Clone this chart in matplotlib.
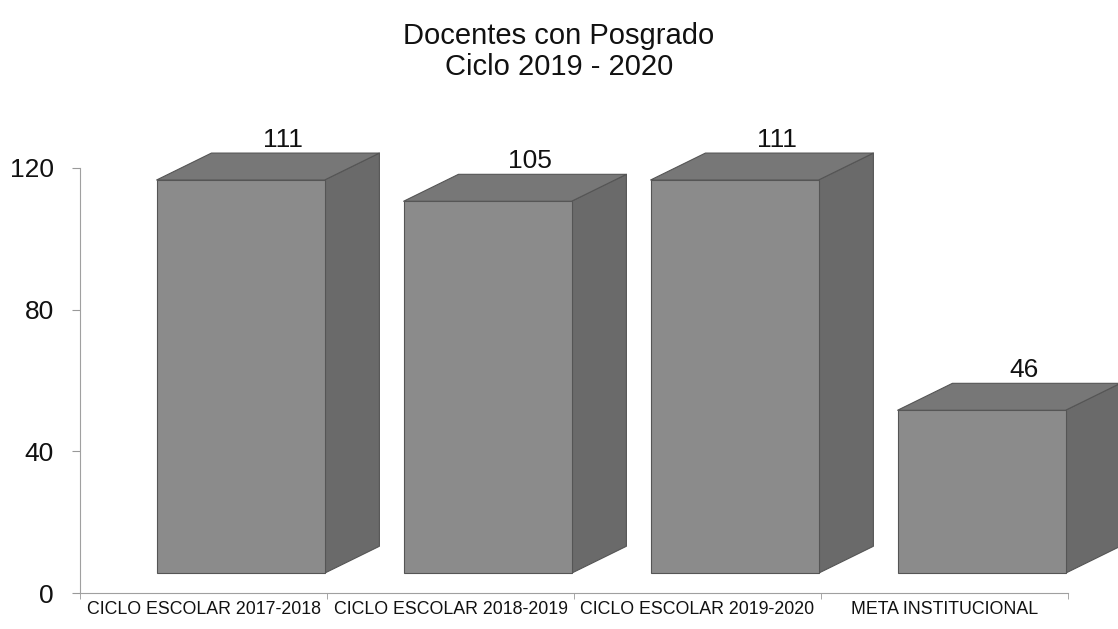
import matplotlib.pyplot as plt
from matplotlib.patches import Polygon

plt.rcParams['font.family'] = ['Liberation Sans', 'DejaVu Sans']

categories = ['CICLO ESCOLAR 2017-2018', 'CICLO ESCOLAR 2018-2019',
              'CICLO ESCOLAR 2019-2020', 'META INSTITUCIONAL']
values = [111, 105, 111, 46]
yticks = [0, 40, 80, 120]

# fake 3d box look
base = 5.6      # front face floats a bit above the floor
left_off = 0.31
width = 0.68
dx = 0.222
dy = 7.6

front_c = '#8b8b8b'
top_c = '#777777'
side_c = '#6a6a6a'
edge_c = '#555555'

fig = plt.figure(figsize=(11.18, 6.29), dpi=100)
ax = fig.add_axes([0.0716, 0.0572, 0.8837, 0.6758])

for i, v in enumerate(values):
    x0 = i + left_off
    x1 = x0 + width
    y0 = base
    y1 = base + v
    ax.bar(x0, v, width=width, bottom=y0, align='edge', color=front_c,
           edgecolor=edge_c, linewidth=0.8, zorder=3, clip_on=False)
    top = Polygon([(x0, y1), (x1, y1), (x1 + dx, y1 + dy), (x0 + dx, y1 + dy)],
                  closed=True, facecolor=top_c, edgecolor=edge_c,
                  linewidth=0.8, joinstyle='round', zorder=3, clip_on=False)
    side = Polygon([(x1, y0), (x1 + dx, y0 + dy), (x1 + dx, y1 + dy), (x1, y1)],
                   closed=True, facecolor=side_c, edgecolor=edge_c,
                   linewidth=0.8, joinstyle='round', zorder=2, clip_on=False)
    ax.add_patch(top)
    ax.add_patch(side)
    ax.text(i + 0.82, y1 + dy + 0.3, str(v), ha='center', va='bottom',
            fontsize=19, color='#111111')

ax.set_xlim(0, 4)
ax.set_ylim(0, 120)
ax.set_yticks(yticks)
ax.set_xticks([0.5, 1.5, 2.5, 3.5])
ax.set_xticklabels(categories)
ax.set_xticks([0, 1, 2, 3, 4], minor=True)
ax.tick_params(axis='y', labelsize=19, length=6, pad=13, color='#999999',
               labelcolor='#111111')
ax.tick_params(axis='x', which='major', length=0, pad=6, labelsize=12.8,
               labelcolor='#111111')
ax.tick_params(axis='x', which='minor', length=4, color='#999999')

for s in ['top', 'right']:
    ax.spines[s].set_visible(False)
for s in ['left', 'bottom']:
    ax.spines[s].set_color('#a0a0a0')
    ax.spines[s].set_linewidth(0.8)

fig.text(0.5, 0.918, 'Docentes con Posgrado\nCiclo 2019 - 2020', ha='center',
         va='center', fontsize=21, color='#111111', linespacing=1.12)

fig.savefig('out.png', dpi=100)
